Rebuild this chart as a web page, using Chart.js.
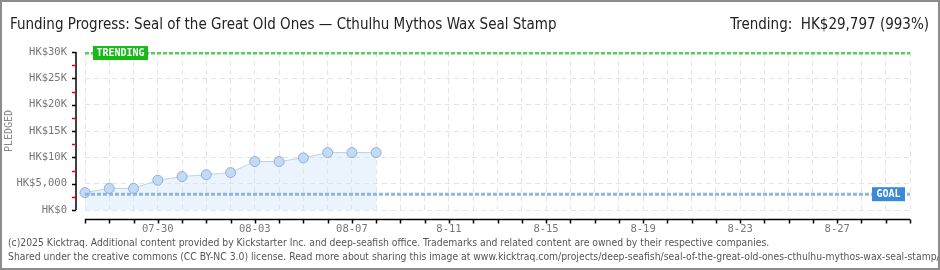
<!DOCTYPE html>
<html>
<head>
<meta charset="utf-8">
<script src="https://cdn.jsdelivr.net/npm/chart.js@4.4.1/dist/chart.umd.min.js"></script>
<style>
  html, body { margin: 0; padding: 0; background: #fff; }
  #wrap { position: relative; width: 940px; height: 270px; box-sizing: border-box; border: 2px solid #8c8c8c; overflow: hidden; }
  #chart { position: absolute; left: -2px; top: -2px; }
  .title { position: absolute; top: 13px; left: 8px; font-family: "DejaVu Sans Condensed", "DejaVu Sans"; font-stretch: condensed; font-size: 15px; color: #222; white-space: nowrap; }
  .trend { position: absolute; top: 13px; right: 9px; font-family: "DejaVu Sans Condensed", "DejaVu Sans"; font-stretch: condensed; font-size: 15px; color: #222; white-space: nowrap; }
  .foot { position: absolute; left: 6px; font-family: "DejaVu Sans Condensed", "DejaVu Sans"; font-stretch: condensed; font-size: 10.3px; color: #555; white-space: nowrap; }
</style>
</head>
<body>
<div id="wrap">
  <canvas id="chart" width="940" height="270"></canvas>
  <div class="title">Funding Progress: Seal of the Great Old Ones — Cthulhu Mythos Wax Seal Stamp</div>
  <div class="trend">Trending:&nbsp; HK$29,797 (993%)</div>
  <div class="foot" style="top:234px">(c)2025 Kicktraq. Additional content provided by Kickstarter Inc. and deep-seafish office. Trademarks and related content are owned by their respective companies.</div>
  <div class="foot" style="top:248px">Shared under the creative commons (CC BY-NC 3.0) license. Read more about sharing this image at www.kicktraq.com/projects/deep-seafish/seal-of-the-great-old-ones-cthulhu-mythos-wax-seal-stamp/</div>
</div>
<script>
// 日期（07-27 ~ 08-30）
var days = ['07-27','07-28','07-29','07-30','07-31','08-01','08-02','08-03','08-04','08-05',
            '08-06','08-07','08-08','08-09','08-10','08-11','08-12','08-13','08-14','08-15',
            '08-16','08-17','08-18','08-19','08-20','08-21','08-22','08-23','08-24','08-25',
            '08-26','08-27','08-28','08-29','08-30']
// x轴显示的标签
var tickText = ['07-30','08-03','08-07','8-11','8-15','8-19','8-23','8-27']
// 已筹金额
var pledged = [3300, 4100, 4100, 5650, 6350, 6700, 7100, 9200, 9200, 9900, 10900, 10900, 10900]
var goal = 3000
var trending = 29797
var yMax = 30000
var yStep = 5000

function money(v) {
    if (v == 0) return 'HK$0'
    if (v < 10000) return 'HK$' + v.toLocaleString('en-US')
    return 'HK$' + (v / 1000) + 'K'
}

var tickFont = { family: 'DejaVu Sans Mono', size: 10.5 }

// 手动画坐标轴、小刻度和标签
var axesPlugin = {
    id: 'axes',
    afterDraw: function (chart) {
        var ctx = chart.ctx, x = chart.scales.x, y = chart.scales.y
        var ax = 76, ay = 219.5
        ctx.save()
        ctx.strokeStyle = '#000'
        ctx.lineWidth = 1.5
        ctx.beginPath()
        ctx.moveTo(ax, y.getPixelForValue(yMax))
        ctx.lineTo(ax, y.getPixelForValue(0))
        ctx.moveTo(x.getPixelForValue(0), ay)
        ctx.lineTo(x.getPixelForValue(days.length - 1), ay)
        ctx.stroke()
        for (var v = 0; v <= yMax; v += yStep / 2) {
            var py = Math.round(y.getPixelForValue(v)) + 0.5
            ctx.strokeStyle = (v % yStep == 0) ? '#000' : '#e00'
            ctx.beginPath()
            ctx.moveTo(ax - 4, py)
            ctx.lineTo(ax, py)
            ctx.stroke()
        }
        ctx.strokeStyle = '#000'
        for (var i = 0; i < days.length; i++) {
            var px = Math.round(x.getPixelForValue(i)) + 0.5
            ctx.beginPath()
            ctx.moveTo(px, ay)
            ctx.lineTo(px, ay + 4)
            ctx.stroke()
        }
        // TRENDING / GOAL 标签
        ctx.font = 'bold 10px "DejaVu Sans Mono"'
        ctx.textBaseline = 'middle'
        var ty = y.getPixelForValue(trending)
        ctx.fillStyle = '#17b917'
        ctx.fillRect(93, ty - 7, 55, 14)
        ctx.fillStyle = '#fff'
        ctx.textAlign = 'center'
        ctx.fillText('TRENDING', 120.5, ty + 0.5)
        var gy = y.getPixelForValue(goal)
        ctx.fillStyle = '#3b8ad9'
        ctx.fillRect(872, gy - 7, 33, 14)
        ctx.fillStyle = '#fff'
        ctx.fillText('GOAL', 888.5, gy + 0.5)
        ctx.restore()
    }
}

var flat = function (v) { return days.map(function () { return v }) }

new Chart(document.getElementById('chart').getContext('2d'), {
    type: 'line',
    data: {
        labels: days,
        datasets: [
            {
                label: 'trending',
                data: flat(trending),
                borderColor: '#5ccb5c',
                borderWidth: 3,
                borderDash: [4, 2],
                pointRadius: 0,
                fill: false
            },
            {
                label: 'goal',
                data: flat(goal),
                borderColor: '#8fb6e2',
                borderWidth: 3,
                borderDash: [4, 2],
                pointRadius: 0,
                fill: false
            },
            {
                label: 'pledged',
                data: pledged,
                borderColor: '#b7d3f2',
                borderWidth: 1,
                backgroundColor: 'rgba(205, 224, 248, 0.4)',
                fill: 'origin',
                pointRadius: 5,
                pointBackgroundColor: '#c3daf6',
                pointBorderColor: '#93aed2',
                pointBorderWidth: 1,
                tension: 0
            }
        ]
    },
    options: {
        responsive: false,
        animation: false,
        layout: { padding: { left: 0, top: 52, right: 30, bottom: 0 } },
        plugins: { legend: { display: false }, tooltip: { enabled: false } },
        scales: {
            x: {
                grid: { color: '#e4e4e4', drawTicks: false },
                border: { display: false, dash: [5, 4] },
                ticks: {
                    autoSkip: false, maxRotation: 0, padding: 13, color: '#777', font: tickFont,
                    callback: function (v, i) { return (i % 4 == 3) ? tickText[(i - 3) / 4] : '' }
                },
                afterFit: function (s) { s.height = 60 }
            },
            y: {
                min: 0, max: yMax,
                grid: { color: '#e4e4e4', drawTicks: false },
                border: { display: false, dash: [5, 4] },
                title: { display: true, text: 'PLEDGED', color: '#888', font: { family: 'DejaVu Sans Mono', size: 10 }, padding: { top: 3 } },
                ticks: {
                    stepSize: yStep, padding: 18, color: '#777', font: tickFont,
                    callback: function (v) { return money(v) }
                },
                afterFit: function (s) { s.width = 85 }
            }
        }
    },
    plugins: [axesPlugin]
});
</script>
</body>
</html>
